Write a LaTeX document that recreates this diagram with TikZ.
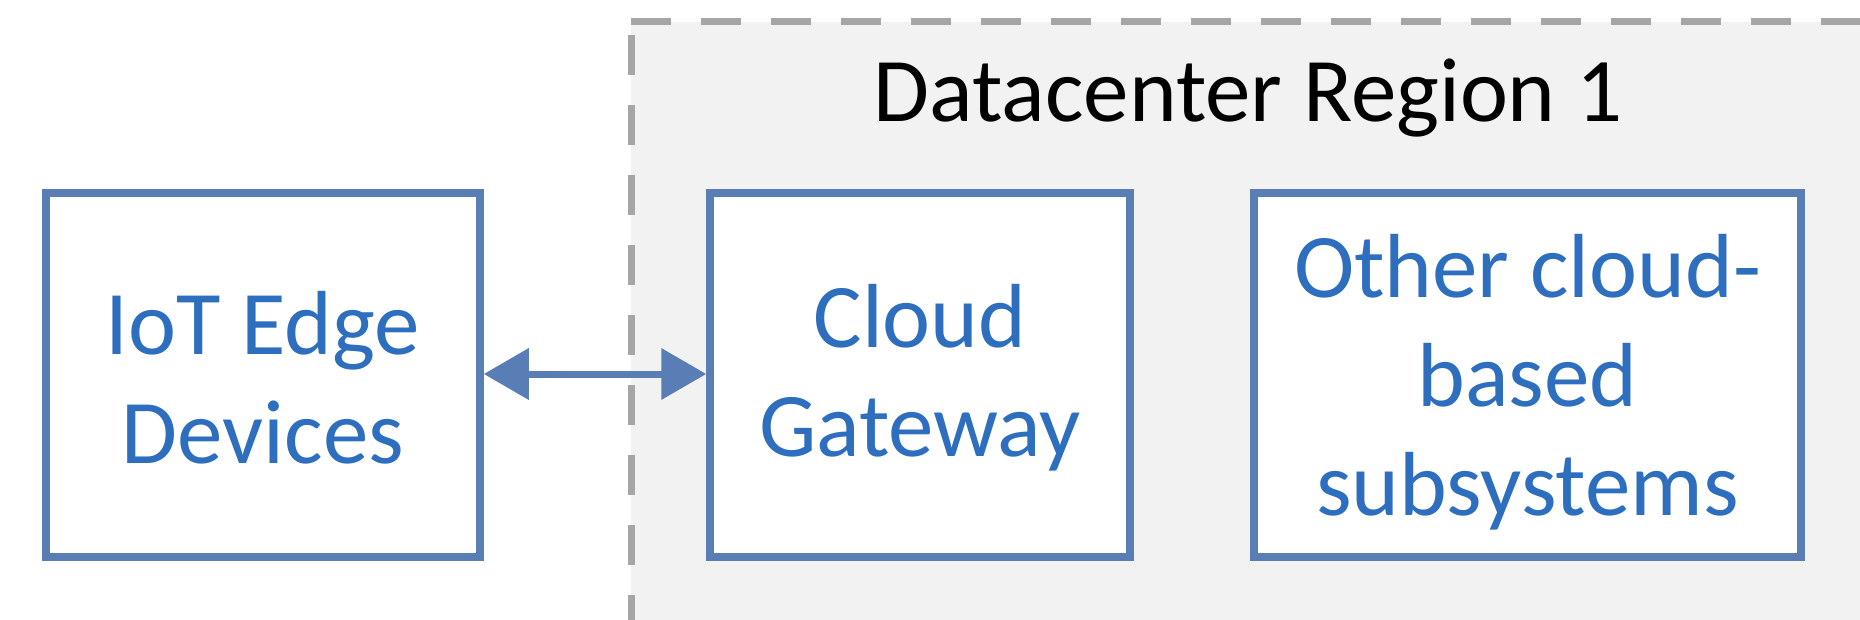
\documentclass[tikz,border=0pt]{standalone}
\usepackage{fontspec}
\setmainfont{Carlito}
\usetikzlibrary{arrows.meta}
\definecolor{boxline}{RGB}{89,126,182}
\definecolor{boxtext}{RGB}{46,110,190}
\definecolor{regionfill}{RGB}{242,242,242}
\definecolor{regionline}{RGB}{166,166,166}
% extra room above the first line of a box label, pushing the text down
\newcommand{\toppad}[2]{\raisebox{0pt}[\dimexpr\height+#1\relax]{#2}}
\begin{document}
\begin{tikzpicture}[x=1pt,y=-1pt,
  comp/.style={draw=boxline, line width=7.5pt, fill=white, text=boxtext,
    font=\fontsize{91}{109}\selectfont, align=center, inner sep=0pt,
    minimum height=364pt},
  link/.style={draw=boxline, line width=7pt,
    {Triangle[length=45pt,width=50pt]}-{Triangle[length=45pt,width=50pt]}},
  region/.style={regionline, line width=7pt, dash pattern=on 40pt off 30pt}
]
\useasboundingbox (0,0) rectangle (1860,620);
% datacenter region: shaded area with dashed border, running off the page
\begin{scope}
  \clip (0,0) rectangle (1860,620);
  \fill[regionfill] (631,22) rectangle (1900,700);
  \draw[region] (631,22) -- (1900,22);
  \draw[region] (631,35) -- (631,700);
\end{scope}
\node[anchor=base, font=\fontsize{91}{109}\selectfont] (title) at (1248,122) {Datacenter Region 1};
% components
\node[comp, minimum width=434pt] (iot) at (263,375) {\toppad{6pt}{IoT Edge}\\Devices};
\node[comp, minimum width=420pt] (gw) at (920,375) {\toppad{6pt}{Cloud}\\Gateway};
\node[comp, minimum width=547pt] (other) at (1527.5,375) {\toppad{14pt}{Other cloud-}\\based\\subsystems};
% connection
\draw[link] ([yshift=1pt]iot.east) -- ([yshift=1pt]gw.west);
\end{tikzpicture}
\end{document}
